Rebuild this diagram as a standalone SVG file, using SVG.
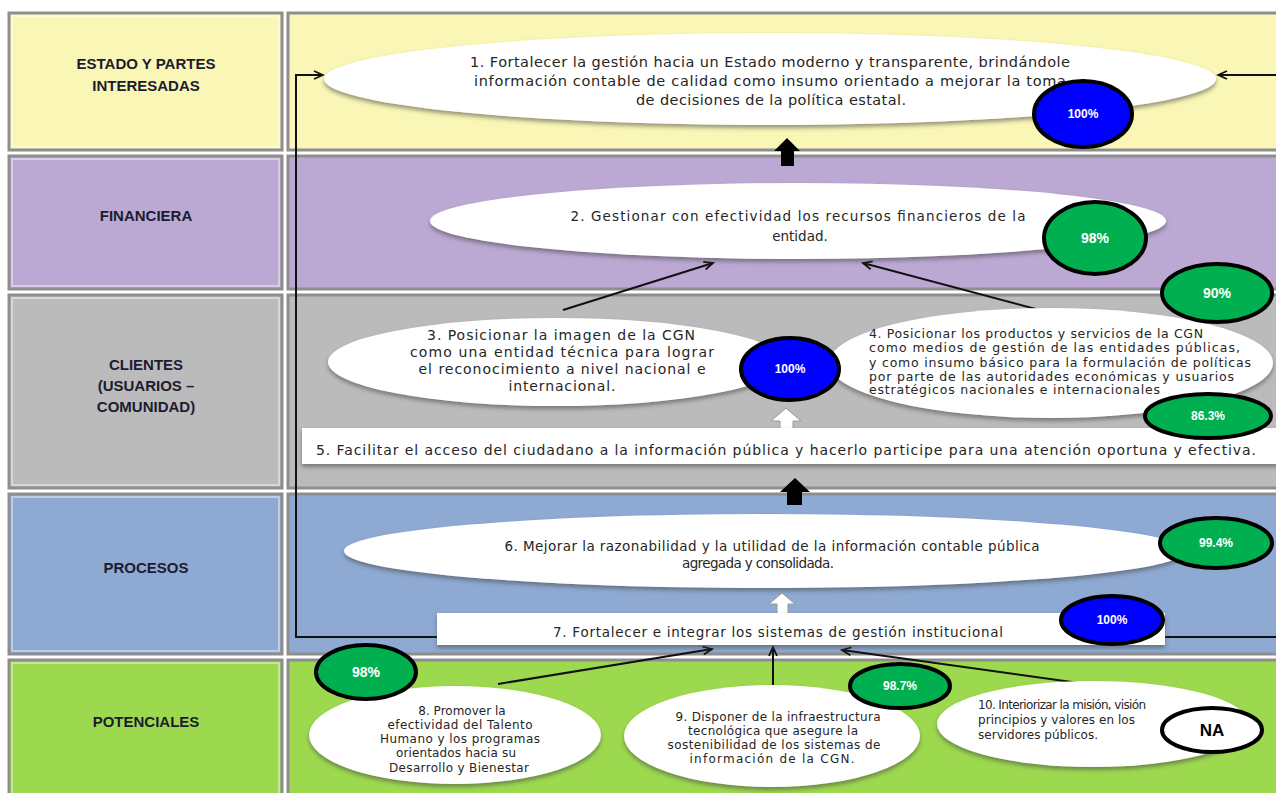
<svg xmlns="http://www.w3.org/2000/svg" width="1276" height="793" viewBox="0 0 1276 793">
<defs>
<style>
.cell{stroke:#8e8e8e;stroke-width:3}
.hi{fill:none;stroke:#ffffff;stroke-opacity:0.55;stroke-width:1.5}
.lab{font-family:"Liberation Sans",Arial,sans-serif;font-weight:bold;font-size:15px;fill:#1c1c30;text-anchor:middle}
.t{font-family:"DejaVu Sans","Liberation Sans",sans-serif;fill:#262626}
.f12{font-size:12px}
.f125{font-size:12.5px}
.f135{font-size:13.5px}
.f14{font-size:14px}
.f145{font-size:14.5px}
.tc{text-anchor:middle}
.ov{fill:#ffffff;filter:url(#sh)}
.box{fill:#ffffff;filter:url(#sh)}
.pc{stroke:#000;stroke-width:4}
.pg{fill:#00b050}
.pb{fill:#0000ff}
.pw{fill:#ffffff}
.pt{font-family:"Liberation Sans",Arial,sans-serif;font-weight:bold;font-size:12px;fill:#ffffff;text-anchor:middle}
.pt.big{font-size:14px}
.pt.na{font-size:17px;fill:#000000}
.con{fill:none;stroke:#111;stroke-width:2}
.blk{fill:#000}
.wht{fill:#ffffff;stroke:#9a9a9a;stroke-width:1}
</style>
<filter id="sh" x="-10%" y="-20%" width="120%" height="150%">
<feDropShadow dx="0" dy="3" stdDeviation="2" flood-color="#444" flood-opacity="0.55"/>
</filter>
<marker id="ah" markerWidth="12" markerHeight="12" refX="10" refY="5" orient="auto" markerUnits="userSpaceOnUse">
<path d="M1,1 L10,5 L1,9" fill="none" stroke="#111" stroke-width="1.8"/>
</marker>
</defs>
<rect width="1276" height="793" fill="#ffffff"/>

<g id="rows">
<rect class="cell" x="9" y="13" width="273" height="137" fill="#f9f6b6"/>
<rect class="hi" x="12" y="16" width="267" height="131"/>
<rect class="cell" x="288" y="13" width="992" height="137" fill="#f9f6b6"/>
<rect class="cell" x="9" y="156" width="273" height="133" fill="#bba9d3"/>
<rect class="hi" x="12" y="159" width="267" height="127"/>
<rect class="cell" x="288" y="156" width="992" height="133" fill="#bba9d3"/>
<rect class="cell" x="9" y="295" width="273" height="193" fill="#bbbbbb"/>
<rect class="hi" x="12" y="298" width="267" height="187"/>
<rect class="cell" x="288" y="295" width="992" height="193" fill="#bbbbbb"/>
<rect class="cell" x="9" y="494" width="273" height="160" fill="#8eaad3"/>
<rect class="hi" x="12" y="497" width="267" height="154"/>
<rect class="cell" x="288" y="494" width="992" height="160" fill="#8eaad3"/>
<rect class="cell" x="9" y="660" width="273" height="140" fill="#9dd94f"/>
<rect class="hi" x="12" y="663" width="267" height="134"/>
<rect class="cell" x="288" y="660" width="992" height="140" fill="#9dd94f"/>
</g>

<g id="labels">
<text class="lab" x="146" y="69">ESTADO Y PARTES</text>
<text class="lab" x="146" y="91">INTERESADAS</text>
<text class="lab" x="146" y="221">FINANCIERA</text>
<text class="lab" x="146" y="370">CLIENTES</text>
<text class="lab" x="146" y="391">(USUARIOS –</text>
<text class="lab" x="146" y="412">COMUNIDAD)</text>
<text class="lab" x="146" y="573">PROCESOS</text>
<text class="lab" x="146" y="727">POTENCIALES</text>
</g>

<g id="connectors">
<path class="con" d="M440,637 H296 V75 H323" marker-end="url(#ah)"/>
<path class="con" d="M1276,75 H1218" marker-end="url(#ah)"/>
<path class="con" d="M1150,637 H1276"/>
<path class="con" d="M563,310 L713,263" marker-end="url(#ah)"/>
<path class="con" d="M1047,312 L863,263" marker-end="url(#ah)"/>
<path class="con" d="M498,684 L712,649" marker-end="url(#ah)"/>
<path class="con" d="M773,686 L773,647" marker-end="url(#ah)"/>
<path class="con" d="M1086,684 L842,650" marker-end="url(#ah)"/>
<path class="blk" d="M787,138 L800,151 L794,151 L794,166 L781,166 L781,151 L774,151 Z"/>
<path class="blk" d="M795,478 L810,492 L802,492 L802,505 L787,505 L787,492 L780,492 Z"/>
<path class="wht" d="M786,408 L801,421 L793,421 L793,431 L780,431 L780,421 L771,421 Z"/>
<path class="wht" d="M782,593 L795,604 L788,604 L788,614 L777,614 L777,604 L769,604 Z"/>
</g>

<g id="n1">
<ellipse class="ov" cx="770" cy="79" rx="446" ry="46"/>
<text class="t tc f145" x="770" y="67" textLength="600">1. Fortalecer la gestión hacia un Estado moderno y transparente,  brindándole</text>
<text class="t tc f145" x="770" y="86" textLength="592">información contable de calidad como insumo orientado a mejorar la toma</text>
<text class="t tc f145" x="771" y="105" textLength="270">de decisiones de la política estatal.</text>
</g>

<g id="n2">
<ellipse class="ov" cx="798" cy="221" rx="368" ry="38"/>
<text class="t tc f135" x="798" y="221" textLength="455">2.  Gestionar con efectividad los recursos financieros de la</text>
<text class="t tc f135" x="800" y="241">entidad.</text>
</g>

<g id="n3">
<ellipse class="ov" cx="556" cy="362" rx="228" ry="44"/>
<text class="t tc f14" x="561" y="340" textLength="268">3. Posicionar la imagen de la CGN</text>
<text class="t tc f14" x="562" y="357" textLength="304">como una entidad técnica para lograr</text>
<text class="t tc f14" x="562" y="374" textLength="287">el reconocimiento a nivel nacional e</text>
<text class="t tc f14" x="562" y="391" textLength="107">internacional.</text>
</g>

<g id="n4">
<ellipse class="ov" cx="1051" cy="363" rx="222" ry="55"/>
<text class="t f125" x="869" y="338" textLength="334">4. Posicionar los productos y servicios de la CGN</text>
<text class="t f125" x="869" y="352" textLength="371">como medios de gestión de las entidades públicas,</text>
<text class="t f125" x="869" y="367" textLength="382">y como  insumo básico para la formulación de políticas</text>
<text class="t f125" x="869" y="381" textLength="365">por parte de las autoridades  económicas y usuarios</text>
<text class="t f125" x="869" y="394" textLength="291">estratégicos nacionales e internacionales</text>
</g>

<g id="n5">
<rect class="box" x="302" y="428" width="976" height="36"/>
<text class="t f14" x="316" y="455" textLength="940">5. Facilitar el acceso del ciudadano a la información pública y hacerlo participe  para una atención oportuna y efectiva.</text>
</g>

<g id="n6">
<ellipse class="ov" cx="765" cy="551" rx="421" ry="37"/>
<text class="t tc f135" x="772" y="551" textLength="535">6. Mejorar la razonabilidad y la utilidad de la información contable pública</text>
<text class="t tc f135" x="758" y="568" textLength="152">agregada y consolidada.</text>
</g>

<g id="n7">
<rect class="box" x="437" y="613" width="728" height="32"/>
<text class="t tc f135" x="778" y="637" textLength="450">7. Fortalecer e integrar los sistemas  de gestión institucional</text>
</g>

<g id="n8">
<ellipse class="ov" cx="455" cy="735" rx="146" ry="49"/>
<text class="t tc f12" x="462" y="715">8.  Promover la</text>
<text class="t tc f12" x="460" y="729" textLength="145">efectividad del Talento</text>
<text class="t tc f12" x="460" y="743" textLength="160">Humano y los programas</text>
<text class="t tc f12" x="456" y="757" textLength="120">orientados hacia su</text>
<text class="t tc f12" x="459" y="772" textLength="140">Desarrollo y Bienestar</text>
</g>

<g id="n9">
<ellipse class="ov" cx="772" cy="736" rx="148" ry="51"/>
<text class="t tc f12" x="778" y="721" textLength="205">9. Disponer de la infraestructura</text>
<text class="t tc f12" x="773" y="735" textLength="170">tecnológica que asegure la</text>
<text class="t tc f12" x="774" y="749" textLength="213">sostenibilidad de los sistemas de</text>
<text class="t tc f12" x="772" y="763" textLength="165">información de la CGN.</text>
</g>

<g id="n10">
<ellipse class="ov" cx="1093" cy="724" rx="156" ry="43"/>
<text class="t f12" x="978" y="709" textLength="168">10. Interiorizar la misión, visión</text>
<text class="t f12" x="978" y="724" textLength="157">principios y valores en los</text>
<text class="t f12" x="978" y="739" textLength="120">servidores públicos.</text>
</g>

<g id="p1"><ellipse class="pc pb" cx="1083" cy="114" rx="49" ry="33"/><text class="pt" x="1083" y="118">100%</text></g>
<g id="p2"><ellipse class="pc pg" cx="1095" cy="238" rx="51" ry="36"/><text class="pt big" x="1095" y="243">98%</text></g>
<g id="p3"><ellipse class="pc pg" cx="1217" cy="293" rx="55" ry="29"/><text class="pt big" x="1217" y="298">90%</text></g>
<g id="p4"><ellipse class="pc pb" cx="790" cy="369" rx="49" ry="31"/><text class="pt" x="790" y="373">100%</text></g>
<g id="p5"><ellipse class="pc pg" cx="1208" cy="416" rx="63" ry="22"/><text class="pt" x="1208" y="420">86.3%</text></g>
<g id="p6"><ellipse class="pc pg" cx="1216" cy="543" rx="56" ry="25"/><text class="pt" x="1216" y="547">99.4%</text></g>
<g id="p7"><ellipse class="pc pb" cx="1112" cy="620" rx="51" ry="24"/><text class="pt" x="1112" y="624">100%</text></g>
<g id="p8"><ellipse class="pc pg" cx="366" cy="672" rx="50" ry="27"/><text class="pt big" x="366" y="677">98%</text></g>
<g id="p9"><ellipse class="pc pg" cx="900" cy="686" rx="50" ry="22"/><text class="pt" x="900" y="690">98.7%</text></g>
<g id="p10"><ellipse class="pc pw" cx="1212" cy="730" rx="50" ry="22"/><text class="pt na" x="1212" y="736">NA</text></g>
</svg>
